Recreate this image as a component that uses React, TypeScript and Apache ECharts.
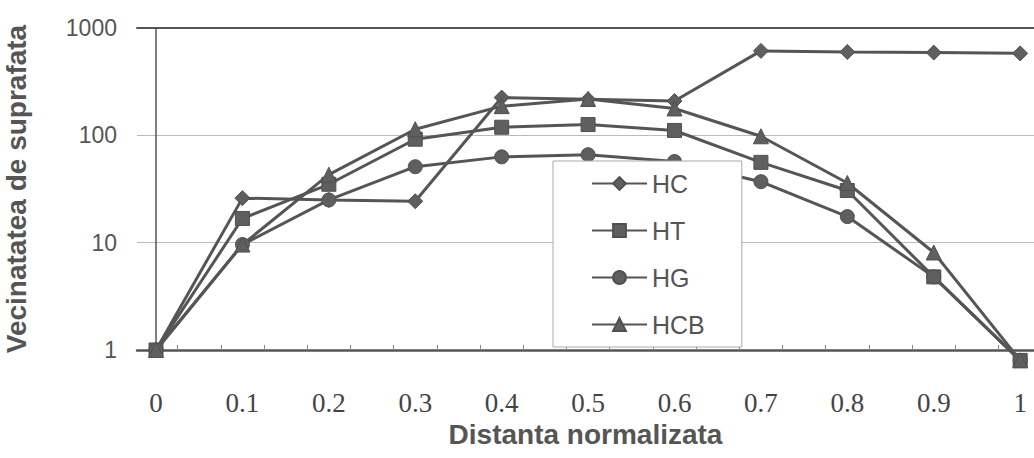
import React, { useEffect, useRef } from "react";
import * as echarts from "echarts";

const xValues = [0, 0.1, 0.2, 0.3, 0.4, 0.5, 0.6, 0.7, 0.8, 0.9, 1];
const xTickValues = [0.025, 0.075, 0.125, 0.175, 0.225, 0.275, 0.325, 0.375, 0.425, 0.475, 0.525, 0.575, 0.625, 0.675, 0.725, 0.775, 0.825, 0.875, 0.925, 0.975];
const yTickLabels = ["1", "10", "100", "1000"];
const hcValues = [1, 26, 25, 24.3, 225, 217, 209, 612, 598, 590, 580];
const htValues = [1, 16.8, 35, 92, 119, 126, 111, 56, 30.6, 4.8, 0.8];
const hgValues = [1, 9.6, 25, 51, 63, 66, 57, 37, 17.5, 4.8, 0.8];
const hcbValues = [1, 9.6, 43, 114, 187, 218, 178, 98, 36, 8.1, 0.8];

const seriesDefs = [
  { name: "HC", values: hcValues, symbol: "diamond", size: 15 },
  { name: "HT", values: htValues, symbol: "rect", size: 14 },
  { name: "HG", values: hgValues, symbol: "circle", size: 14 },
  { name: "HCB", values: hcbValues, symbol: "triangle", size: 15 },
];

const LINE = "#555555";
const SANS = "Liberation Sans";

export default function App() {
  const ref = useRef<HTMLDivElement>(null);
  useEffect(() => {
    if (!ref.current) return;
    const chart = echarts.init(ref.current, undefined, { renderer: "svg" });
    chart.setOption({
      animation: false,
      backgroundColor: "#ffffff",
      grid: { left: 137, right: 0, top: 28, bottom: 108, containLabel: false, outerBoundsMode: "none" },
      legend: {
        orient: "vertical",
        left: 553,
        top: 161,
        padding: [10, 37, 10, 38],
        itemWidth: 55,
        itemHeight: 16,
        itemGap: 22,
        itemTextGap: 8,
        backgroundColor: "#ffffff",
        borderColor: "#aaaaaa",
        borderWidth: 1,
        textStyle: { fontFamily: SANS, fontSize: 25, lineHeight: 25, color: "#555" },
        data: seriesDefs.map((s) => s.name),
      },
      xAxis: [
        {
          type: "value",
          min: -0.022,
          max: 1.016,
          axisLine: { show: true, lineStyle: { color: "#555", width: 2.5 } },
          axisTick: {
            show: true,
            inside: true,
            length: 5,
            customValues: xTickValues,
            lineStyle: { color: "#888", width: 1 },
          },
          axisLabel: {
            customValues: xValues,
            formatter: (v: number) => String(Math.round(v * 10) / 10),
            fontFamily: "Liberation Serif",
            fontSize: 27,
            color: "#444",
            margin: 39,
          },
          splitLine: { show: false },
          name: "Distanta normalizata",
          nameLocation: "middle",
          nameGap: 70,
          nameTextStyle: { fontFamily: SANS, fontSize: 28, fontWeight: "bold", color: "#555" },
        },
        {
          type: "value",
          position: "top",
          min: -0.022,
          max: 1.016,
          axisLine: { show: true, onZero: false, lineStyle: { color: "#555", width: 2 } },
          axisTick: { show: false },
          axisLabel: { show: false },
          splitLine: { show: false },
        },
      ],
      yAxis: {
        type: "log",
        logBase: 10,
        min: 1,
        max: 1000,
        axisLine: { show: true, lineStyle: { color: "#555", width: 1.5 } },
        axisTick: { show: false },
        axisLabel: {
          fontFamily: SANS,
          fontSize: 23,
          color: "#555",
          margin: 20,
          formatter: (v: number) => yTickLabels[Math.round(Math.log10(v))] ?? String(v),
        },
        splitLine: { show: true, lineStyle: { color: "#bbbbbb", width: 1 } },
        minorSplitLine: { show: false },
        name: "Vecinatatea de suprafata",
        nameLocation: "middle",
        nameGap: 107,
        nameTextStyle: { fontFamily: SANS, fontSize: 28, fontWeight: "bold", color: "#555" },
      },
      series: seriesDefs.map((s) => ({
        name: s.name,
        type: "line",
        xAxisIndex: 0,
        clip: false,
        data: xValues.map((x, i) => [x, s.values[i]]),
        symbol: s.symbol,
        symbolSize: s.size,
        showAllSymbol: true,
        lineStyle: { color: LINE, width: 3 },
        itemStyle: { color: "#5f5f5f", borderColor: "#505050", borderWidth: 1 },
      })),
    });
    return () => chart.dispose();
  }, []);
  return (
    <div
      ref={ref}
      style={{ position: "fixed", left: 0, top: 0, width: 1034, height: 458 }}
    />
  );
}
